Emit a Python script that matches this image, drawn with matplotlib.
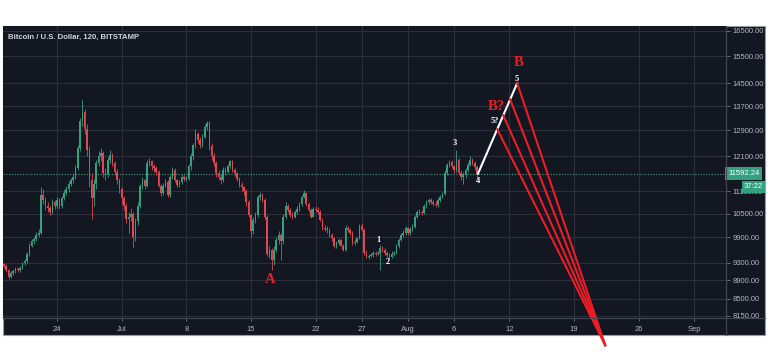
import matplotlib

matplotlib.use("Agg")
import matplotlib.dates as mdates
import matplotlib.pyplot as plt
import matplotlib.transforms as mtransforms
import pandas as pd
from matplotlib.lines import Line2D
from matplotlib.patches import Rectangle
from matplotlib.ticker import FixedLocator, NullLocator

# 6-hour candles, Jun 18 06:00 -> Aug 8 12:00 (2019)
first_open = 9260
closes = [
    9230, 9120, 8980, 9060, 9100, 9150, 9120, 9180, 9280, 9330, 9500, 9700,
    9800, 9850, 9950, 10000, 11000, 10850, 10700, 10650, 10550, 10800, 10700, 10850,
    10700, 10900, 11050, 11150, 11300, 11400, 11500, 11750, 12350, 13200, 13500, 12950,
    12300, 11400, 10900, 11300, 11900, 12100, 12200, 11600, 11580, 12000, 12150, 11900,
    11650, 11400, 11150, 10900, 10700, 10350, 10400, 10500, 9900, 10300, 10700, 11250,
    11400, 11250, 11900, 11950, 11800, 11750, 11650, 11250, 11050, 11250, 11350, 11000,
    11500, 11700, 11400, 11270, 11350, 11500, 11450, 11450, 11800, 12100, 12440, 12800,
    12600, 12440, 12700, 13000, 13150, 12400, 12100, 11900, 11600, 11500, 11400, 11700,
    11650, 11800, 11950, 11700, 11600, 11450, 11270, 11200, 11100, 10800, 10460, 10050,
    10335, 10450, 10950, 11000, 10860, 10420, 9500, 9600, 9350, 9600, 9835, 9950,
    9800, 10420, 10700, 10600, 10450, 10420, 10540, 10620, 10750, 10950, 11050, 10750,
    10600, 10420, 10620, 10600, 10550, 10330, 10130, 10100, 10080, 9950, 9880, 9700,
    9760, 9835, 9700, 9600, 10130, 10080, 10000, 9760, 9790, 9880, 10180, 10080,
    9530, 9430, 9450, 9475, 9520, 9500, 9520, 9650, 9595, 9520, 9480, 9430,
    9500, 9520, 9690, 9835, 9950, 10000, 10130, 10000, 10100, 10160, 10420, 10540,
    10540, 10520, 10700, 10800, 10860, 10810, 10760, 10730, 10860, 10950, 11030, 11610,
    11840, 11930, 11800, 11700, 12000, 11610, 11500, 11550, 11700, 11850, 11990, 11900,
    11780, 11592.24,
]
highs = [
    9300, 9260, 9150, 9100, 9150, 9200, 9190, 9230, 9320, 9390, 9550, 9760,
    9870, 9920, 10020, 10100, 11200, 11150, 10950, 10800, 10700, 10880, 10850, 10930,
    10900, 10980, 11120, 11250, 11380, 11480, 11600, 11850, 12450, 13300, 13900, 13600,
    13100, 12400, 11600, 11450, 12000, 12250, 12350, 12250, 11750, 12080, 12300, 12200,
    11950, 11720, 11480, 11200, 10980, 10780, 10550, 10650, 10550, 10380, 10800, 11300,
    11500, 11450, 12000, 12050, 12000, 11880, 11800, 11700, 11300, 11330, 11450, 11400,
    11550, 11780, 11750, 11450, 11420, 11580, 11560, 11520, 11880, 12200, 12500, 12950,
    12850, 12700, 12800, 13100, 13200, 13200, 12500, 12200, 11950, 11700, 11580, 11780,
    11780, 11880, 12000, 11980, 11750, 11650, 11500, 11350, 11250, 11150, 10850, 10500,
    10400, 10550, 11000, 11080, 11050, 10900, 10450, 9700, 9650, 9700, 9900, 10050,
    10000, 10480, 10800, 10750, 10650, 10550, 10600, 10700, 10800, 11000, 11130, 11080,
    10800, 10650, 10680, 10700, 10680, 10600, 10380, 10200, 10180, 10120, 10000, 9920,
    9800, 9880, 9870, 9750, 10200, 10180, 10120, 10050, 9850, 9920, 10220, 10250,
    10120, 9600, 9500, 9520, 9570, 9560, 9560, 9720, 9700, 9640, 9560, 9520,
    9560, 9580, 9740, 9880, 10000, 10080, 10180, 10160, 10150, 10220, 10460, 10600,
    10620, 10600, 10760, 10850, 10920, 10900, 10860, 10820, 10900, 11000, 11080, 11700,
    11900, 12000, 11980, 11850, 12290, 12050, 11700, 11650, 11760, 11920, 12100, 12050,
    11950, 11850,
]
lows = [
    9180, 9080, 8940, 8960, 9020, 9060, 9080, 9090, 9150, 9240, 9290, 9460,
    9660, 9750, 9800, 9900, 9980, 10750, 10600, 10550, 10450, 10500, 10620, 10650,
    10620, 10650, 10850, 11000, 11080, 11230, 11330, 11450, 11700, 12250, 13050, 12800,
    12100, 11200, 10350, 10700, 11150, 11800, 11950, 11500, 11400, 11500, 11900, 11800,
    11550, 11300, 11050, 10750, 10600, 10250, 10000, 10300, 9650, 9800, 10200, 10650,
    11150, 11150, 11200, 11800, 11700, 11650, 11550, 11200, 10980, 11000, 11200, 10950,
    10950, 11450, 11350, 11200, 11200, 11300, 11380, 11380, 11400, 11700, 12000, 12350,
    12500, 12350, 12380, 12650, 12900, 12300, 12000, 11800, 11500, 11400, 11300, 11350,
    11550, 11600, 11750, 11650, 11520, 11380, 11200, 11100, 11000, 10700, 10400, 9900,
    9980, 10250, 10400, 10850, 10800, 10350, 9450, 9400, 9130, 9250, 9550, 9750,
    9360, 9750, 10350, 10550, 10400, 10350, 10380, 10480, 10580, 10700, 10900, 10700,
    10550, 10380, 10400, 10550, 10480, 10300, 10080, 10050, 10000, 9900, 9820, 9650,
    9650, 9720, 9680, 9560, 9580, 10030, 9950, 9720, 9720, 9760, 9850, 10050,
    9480, 9400, 9380, 9420, 9440, 9460, 9470, 9130, 9550, 9480, 9440, 9390,
    9400, 9460, 9500, 9650, 9800, 9900, 9950, 9950, 9950, 10050, 10120, 10380,
    10460, 10450, 10480, 10650, 10750, 10760, 10700, 10680, 10680, 10800, 10900, 11000,
    11550, 11780, 11750, 11620, 11650, 11550, 11400, 11300, 11480, 11650, 11800, 11850,
    11700, 11450,
]
last_price = 11592.24
countdown = "37:22"

price_ticks = [8150, 8500, 8900, 9300, 9900, 10500, 11100, 12100, 12900, 13700, 14500, 15500, 16500]
date_ticks = ["2019-06-24", "2019-07-01", "2019-07-08", "2019-07-15", "2019-07-22", "2019-07-27",
              "2019-08-01", "2019-08-06", "2019-08-12", "2019-08-19", "2019-08-26", "2019-09-01"]
date_labels = ["24", "Jul", "8", "15", "22", "27", "Aug", "6", "12", "19", "26", "Sep"]

# wave projection
wave_start = ("2019-08-08 14:24", 11592.24)
wave_end = ("2019-08-12 20:10", 14500)
fan_start_times = ["2019-08-10 16:20", "2019-08-11 08:00", "2019-08-12 02:00", "2019-08-12 20:10"]
fan_start_prices = [12940, 13390, 13930, 14500]
fan_end = ("2019-08-22 09:00", 7580)

wave_labels = ["1", "2", "3", "4", "5", "5?"]
wave_label_times = ["2019-07-28 19:00", "2019-07-29 21:00", "2019-08-06 03:00",
                    "2019-08-08 15:00", "2019-08-12 20:00", "2019-08-10 11:00"]
wave_label_prices = [9835, 9320, 12510, 11380, 14650, 13200]
big_labels = ["A", "B?", "B"]
big_label_times = ["2019-07-17 02:00", "2019-08-10 13:30", "2019-08-12 23:00"]
big_label_prices = [8910, 13700, 15250]

BG = "#131722"
GRID = "#2b2f3b"
TEXT = "#b2b5be"
UP = "#35a07f"
DOWN = "#e04852"
RED = "#ee1c25"

W, H = 768, 357
fig = plt.figure(figsize=(W / 100, H / 100), dpi=100, facecolor="white")

# dark panel behind everything
fig.patches.append(Rectangle((3 / W, 1 - 335 / H), 762 / W, 309 / H, transform=fig.transFigure,
                             facecolor=BG, edgecolor="#9a9ca3", linewidth=0.8, zorder=-1))

ax = fig.add_axes([3 / W, 1 - 318 / H, 723 / W, 292 / H], facecolor=BG)

t = mdates.date2num(pd.date_range("2019-06-18 06:00", periods=len(closes), freq="6h"))
opens = [first_open] + closes[:-1]
colors = [UP if c >= o else DOWN for o, c in zip(opens, closes)]
ax.vlines(t, lows, highs, colors=colors, linewidth=0.6, zorder=3)
bottoms = [min(o, c) for o, c in zip(opens, closes)]
heights = [max(abs(c - o), 15) for o, c in zip(opens, closes)]
ax.bar(t, heights, bottom=bottoms, width=0.17, color=colors, linewidth=0, zorder=3)

ax.axhline(last_price, color="#4f9d86", linestyle=(0, (1, 1.5)), linewidth=0.8, zorder=2)

# white impulse leg and red fan
d0 = mdates.date2num(pd.Timestamp(wave_start[0]))
d1 = mdates.date2num(pd.Timestamp(wave_end[0]))
ax.plot([d0, d1], [wave_start[1], wave_end[1]], color="white", linewidth=1.5, zorder=5)
fe = mdates.date2num(pd.Timestamp(fan_end[0]))
for ts, p in zip(fan_start_times, fan_start_prices):
    ax.plot([mdates.date2num(pd.Timestamp(ts)), fe], [p, fan_end[1]], color=RED,
            linewidth=1.5, zorder=6, clip_on=False)

for lab, ts, p in zip(wave_labels, wave_label_times, wave_label_prices):
    ax.text(mdates.date2num(pd.Timestamp(ts)), p, lab, color="white", fontsize=6,
            fontweight="bold", family="Liberation Serif", ha="center", va="center", zorder=7)
for lab, ts, p in zip(big_labels, big_label_times, big_label_prices):
    ax.text(mdates.date2num(pd.Timestamp(ts)), p, lab, color=RED, fontsize=10.5,
            fontweight="bold", family="Liberation Serif", ha="center", va="center", zorder=7)

ax.set_yscale("log")
ax.set_ylim(8108, 16705)
ax.set_xlim(mdates.date2num(pd.Timestamp("2019-06-18 03:40")),
            mdates.date2num(pd.Timestamp("2019-09-04 11:00")))

ax.yaxis.tick_right()
ax.yaxis.set_major_locator(FixedLocator(price_ticks))
ax.yaxis.set_minor_locator(NullLocator())
ax.set_yticklabels([f"{v:.2f}" for v in price_ticks])
ax.set_xticks(mdates.date2num(pd.to_datetime(date_ticks)))
ax.set_xticklabels(date_labels)
ax.tick_params(axis="y", colors="#787b86", labelcolor=TEXT, labelsize=5.5, length=3, width=0.6, pad=2)
ax.tick_params(axis="x", colors="#787b86", labelcolor=TEXT, labelsize=5.5, length=2, width=0.6, pad=4)
for lbl in ax.get_xticklabels() + ax.get_yticklabels():
    lbl.set_family("Liberation Sans")
ax.grid(True, color=GRID, linewidth=0.8)
for side in ("top", "left"):
    ax.spines[side].set_visible(False)
for side in ("right", "bottom"):
    ax.spines[side].set_color("#434651")
    ax.spines[side].set_linewidth(0.8)

# separators continuing into the axis strips
fig.lines.append(Line2D([726 / W, 726 / W], [1 - 335 / H, 1 - 26 / H], transform=fig.transFigure,
                        color="#434651", linewidth=0.8))
fig.lines.append(Line2D([3 / W, 765 / W], [1 - 318 / H, 1 - 318 / H], transform=fig.transFigure,
                        color="#434651", linewidth=0.8))

ax.text(0.007, 0.962, "Bitcoin / U.S. Dollar, 120, BITSTAMP", transform=ax.transAxes,
        color="#d1d4dc", fontsize=5.6, fontweight="bold", family="Liberation Sans",
        ha="left", va="center")

blend = mtransforms.blended_transform_factory(ax.transAxes, ax.transData)
ax.text(1.003, last_price, f"{last_price:.2f}", transform=blend, color="white", fontsize=5.5,
        family="Liberation Sans", ha="left", va="center", clip_on=False, zorder=8,
        bbox=dict(boxstyle="square,pad=0.4", facecolor=UP, edgecolor="none"))
ax.annotate(countdown, xy=(1.0512, last_price), xycoords=blend, xytext=(0, -9.6),
            textcoords="offset points", color="white", fontsize=5.5, family="Liberation Sans",
            ha="right", va="center", annotation_clip=False, zorder=8,
            bbox=dict(boxstyle="square,pad=0.3", facecolor=UP, edgecolor="none"))

fig.savefig("out.png", dpi=100, facecolor="white")
